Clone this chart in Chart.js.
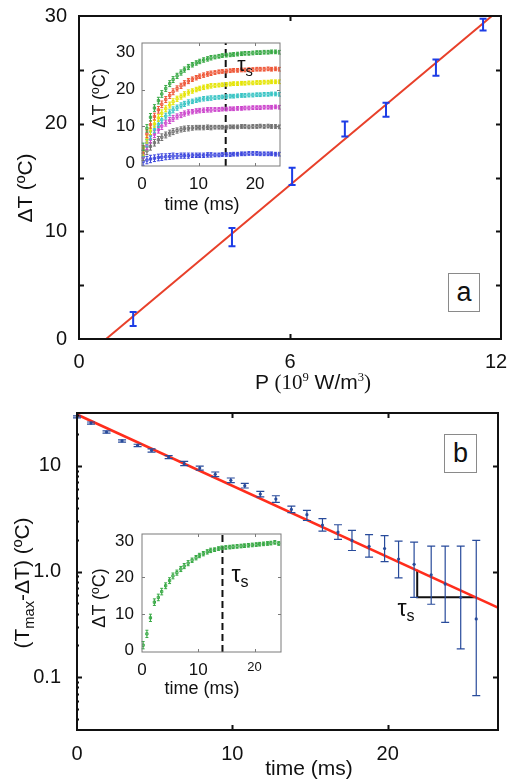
<!DOCTYPE html>
<html>
<head>
<meta charset="utf-8">
<script src="https://cdn.jsdelivr.net/npm/chart.js@4.4.0/dist/chart.umd.min.js"></script>
<style>
  body { margin: 0; background: #fff; width: 510px; height: 779px; position: relative; overflow: hidden;
         font-family: "Liberation Sans", Arial, sans-serif; color: #111; }
  canvas { position: absolute; }
  .lbl { position: absolute; white-space: nowrap; transform: translate(-50%, -50%); line-height: 1; }
  .rot { transform: translate(-50%, -50%) rotate(-90deg); }
  .serif { font-family: "Liberation Serif", "Times New Roman", serif; }
  .sup { font-size: 0.6em; vertical-align: 0.65em; }
  .sub { font-size: 0.7em; vertical-align: -0.3em; }
  .box { position: absolute; border: 1px solid #8a8a8a; background: #fff; display: flex;
         align-items: center; justify-content: center; font-size: 27px; box-sizing: border-box; }
</style>
</head>
<body>
<canvas id="chartA" width="510" height="390" style="left:0;top:0"></canvas>
<canvas id="insetA" width="210" height="190" style="left:80px;top:30px"></canvas>
<canvas id="chartB" width="510" height="389" style="left:0;top:390px"></canvas>
<canvas id="insetB" width="200" height="180" style="left:90px;top:520px"></canvas>

<!-- panel a labels -->
<div class="lbl rot" style="left:24px;top:188px;font-size:21px">ΔT (ºC)</div>
<div class="lbl" style="left:313px;top:382px;font-size:21px">P <span class="serif">(10<span class="sup">9</span></span> W/m<span class="serif"><span class="sup">3</span>)</span></div>
<div class="lbl rot" style="left:99px;top:98px;font-size:18px">ΔT (ºC)</div>
<div class="lbl" style="left:202px;top:204px;font-size:18px">time (ms)</div>
<div class="lbl" style="left:245px;top:66px;font-size:21px">τ<span class="sub">s</span></div>
<div class="box" style="left:448px;top:273px;width:32px;height:39px">a</div>

<!-- panel b labels -->
<div class="lbl rot" style="left:24px;top:583px;font-size:21px">(T<span class="sub">max</span>-ΔT) (ºC)</div>
<div class="lbl" style="left:309px;top:767px;font-size:21px">time (ms)</div>
<div class="lbl rot" style="left:99px;top:598px;font-size:18px">ΔT (ºC)</div>
<div class="lbl" style="left:202px;top:688px;font-size:18px">time (ms)</div>
<div class="lbl" style="left:240px;top:576px;font-size:23px">τ<span class="sub">s</span></div>
<div class="lbl" style="left:406px;top:610px;font-size:23px">τ<span class="sub">s</span></div>
<div class="box" style="left:444px;top:434px;width:33px;height:39px">b</div>

<script>
// ---- panel a: steady temperature rise vs. power density
const powerP    = [1.54, 4.35, 6.06, 7.56, 8.73, 10.15, 11.49];
const deltaT    = [1.86, 9.47, 15.1, 19.5, 21.3, 25.2, 29.2];
const deltaTErr = [0.65, 0.85, 0.8, 0.7, 0.65, 0.75, 0.55];
const fitP      = [0.77, 11.74];
const fitDeltaT = [0, 30];
const ticksPA   = [0, 6, 12];
const ticksTA   = [0, 10, 20, 30];
const frameTA   = [5, 10, 15, 20, 25];

// ---- insets: heating curves (time in ms)
const insetTime = [0.2, 0.87, 1.5, 2.2, 2.9, 3.5, 4.2, 4.9, 5.5, 6.2, 6.9, 7.5, 8.2, 8.9, 9.6, 10.2, 10.9, 11.6, 12.2,
  12.9, 13.6, 14.2, 14.9, 15.6, 16.2, 16.9, 17.6, 18.2, 18.9, 19.6, 20.3, 20.9, 21.6, 22.3, 22.9, 23.6, 24.3];
const insetErr = [1.0, 1.0, 1.0, 0.9, 0.9, 0.9, 0.8, 0.8, 0.8, 0.7, 0.7, 0.7, 0.7, 0.6, 0.6, 0.6, 0.6, 0.6, 0.6,
  0.5, 0.5, 0.5, 0.5, 0.5, 0.5, 0.5, 0.5, 0.5, 0.5, 0.5, 0.5, 0.5, 0.5, 0.5, 0.5, 0.5, 0.5];
const curveGreen = [4.5, 9.5, 12.5, 15, 17, 18.8, 20.3, 21.6, 22.7, 23.7, 24.6, 25.4, 26.1, 26.7, 27.2, 27.6, 28, 28.3, 28.6,
  28.8, 29, 29.2, 29.3, 29.4, 29.5, 29.6, 29.7, 29.8, 29.8, 29.9, 30, 30, 30.1, 30.1, 30.2, 30.2, 30.1];
const curveRed = [3.8, 8, 10.5, 12.7, 14.5, 16, 17.3, 18.4, 19.4, 20.3, 21, 21.7, 22.3, 22.8, 23.2, 23.6, 23.9, 24.2, 24.4,
  24.6, 24.8, 24.9, 25, 25.1, 25.2, 25.2, 25.3, 25.3, 25.4, 25.4, 25.5, 25.5, 25.5, 25.6, 25.5, 25.6, 25.5];
const curveYellow = [3.2, 6.5, 8.8, 10.7, 12.3, 13.6, 14.8, 15.8, 16.7, 17.5, 18.1, 18.7, 19.2, 19.6, 20, 20.3, 20.6, 20.8, 21,
  21.1, 21.2, 21.3, 21.4, 21.5, 21.6, 21.6, 21.7, 21.7, 21.8, 21.8, 21.9, 21.9, 22, 22, 22.1, 22.1, 22.1];
const curveCyan = [2.8, 5.5, 7.5, 9.2, 10.6, 11.8, 12.8, 13.7, 14.5, 15.1, 15.7, 16.1, 16.5, 16.8, 17.1, 17.3, 17.5, 17.6, 17.7,
  17.8, 17.9, 18, 18.1, 18.2, 18.2, 18.3, 18.4, 18.4, 18.5, 18.5, 18.6, 18.6, 18.7, 18.7, 18.8, 18.8, 18.7];
const curveMagenta = [2.5, 4.8, 6.5, 7.9, 9.1, 10.1, 10.9, 11.6, 12.2, 12.7, 13.1, 13.5, 13.8, 14, 14.2, 14.3, 14.4, 14.5, 14.5,
  14.6, 14.6, 14.7, 14.7, 14.8, 14.8, 14.9, 14.9, 15, 15, 15.1, 15.1, 15.1, 15.2, 15.2, 15.2, 15.3, 15.2];
const curveGray = [1.8, 3.4, 4.6, 5.6, 6.4, 7.1, 7.7, 8.2, 8.6, 8.9, 9.2, 9.4, 9.5, 9.6, 9.7, 9.7, 9.7, 9.8, 9.7,
  9.8, 9.8, 9.8, 9.8, 9.9, 9.9, 9.9, 10, 10, 9.9, 10, 10, 10.1, 10, 10.1, 10, 10, 9.9];
const curveBlue = [0.5, 0.9, 1.2, 1.4, 1.6, 1.7, 1.8, 1.9, 2, 2, 2.1, 2.1, 2.1, 2.2, 2.2, 2.2, 2.2, 2.3, 2.3,
  2.3, 2.3, 2.4, 2.4, 2.4, 2.5, 2.5, 2.6, 2.6, 2.7, 2.7, 2.7, 2.6, 2.6, 2.6, 2.6, 2.5, 2.5];
const curveGreenB = [1.4, 4.5, 8.9, 13.2, 14.5, 16.1, 17.7, 19.1, 20.4, 21.3, 22.3, 23.1, 23.9, 24.7, 25.4, 26.0, 26.5, 27.0, 27.4,
  27.6, 27.9, 28.1, 28.2, 28.3, 28.4, 28.5, 28.6, 28.7, 28.8, 28.9, 29.0, 29.1, 29.2, 29.3, 29.4, 29.6, 29.3];
const tauA = 14.8;
const tauB = 14.3;
const insetTicksX = [0, 10, 20];
const insetTicksY = [0, 10, 20, 30];

// ---- panel b: approach to saturation, log scale
const decayTime = [0, 0.9, 1.9, 2.9, 3.9, 4.8, 5.9, 6.9, 7.9, 8.9, 9.9, 10.8, 11.8, 12.8, 13.8, 14.8, 15.8, 16.8,
  17.7, 18.8, 19.8, 20.7, 21.7, 22.8, 23.7, 24.7, 25.7];
const decayVal = [29.0, 25.4, 20.9, 17.2, 15.6, 14.0, 12.1, 10.5, 9.53, 8.31, 7.29, 6.49, 5.40, 4.85, 3.87, 3.45, 2.75, 2.36,
  1.97, 1.73, 1.65, 1.31, 1.17, 0.93, 0.76, 0.57, 0.356];
const decayHi = [29.7, 26.0, 21.4, 17.6, 16.0, 14.5, 12.5, 11.0, 9.95, 8.74, 7.67, 6.82, 5.74, 5.21, 4.16, 3.79, 3.16, 2.77,
  2.45, 2.23, 2.19, 1.94, 1.90, 1.74, 1.74, 1.74, 1.97];
const decayLo = [28.4, 24.8, 20.4, 16.8, 15.2, 13.5, 11.7, 10.05, 9.12, 7.90, 6.93, 6.17, 5.08, 4.51, 3.60, 3.04, 2.41, 2.01,
  1.58, 1.37, 1.24, 0.87, 0.57, 0.49, 0.33, 0.185, 0.067];
const decayFitT = [0, 27.1];
const decayFitV = [30.6, 0.456];
const tauMarkT = [21.9, 21.9, 25.6];
const tauMarkV = [1.04, 0.57, 0.57];
const ticksTB = [0, 10, 20];
const ticksLogB = [0.1, 1, 10];
const minorLogB = [0.04, 0.05, 0.06, 0.07, 0.08, 0.09, 0.2, 0.3, 0.4, 0.5, 0.6, 0.7, 0.8, 0.9,
  2, 3, 4, 5, 6, 7, 8, 9, 20, 30];

const pts = (xs, ys) => xs.map((x, i) => ({ x: x, y: ys[i] }));

// error bars drawn through the chart scales
const errorBars = {
  id: 'errorBars',
  afterDatasetsDraw(chart) {
    const { ctx, scales: { x, y } } = chart;
    chart.data.datasets.forEach(ds => {
      if (!ds.errLo) return;
      ctx.save();
      ctx.strokeStyle = ds.errColor || ds.borderColor;
      ctx.lineWidth = ds.errWidth || 1;
      const c = ds.capW / 2;
      ds.data.forEach((p, i) => {
        const px = x.getPixelForValue(p.x);
        const y1 = y.getPixelForValue(ds.errLo[i]);
        const y2 = y.getPixelForValue(ds.errHi[i]);
        ctx.beginPath();
        ctx.moveTo(px, y1); ctx.lineTo(px, y2);
        ctx.moveTo(px - c, y1); ctx.lineTo(px + c, y1);
        ctx.moveTo(px - c, y2); ctx.lineTo(px + c, y2);
        ctx.stroke();
      });
      ctx.restore();
    });
  }
};

// box around the plot with inward ticks on all sides
const frame = {
  id: 'frame',
  afterDraw(chart, args, o) {
    const { ctx, chartArea: a, scales: { x, y } } = chart;
    ctx.save();
    ctx.strokeStyle = o.color;
    ctx.lineWidth = o.width;
    ctx.strokeRect(a.left, a.top, a.right - a.left, a.bottom - a.top);
    ctx.lineWidth = o.tickWidth;
    ctx.beginPath();
    (o.xTicks || []).forEach(v => {
      const px = Math.round(x.getPixelForValue(v)) + 0.5;
      ctx.moveTo(px, a.bottom); ctx.lineTo(px, a.bottom - o.len);
      ctx.moveTo(px, a.top); ctx.lineTo(px, a.top + o.len);
    });
    (o.yTicks || []).forEach(v => {
      const py = Math.round(y.getPixelForValue(v)) + 0.5;
      ctx.moveTo(a.left, py); ctx.lineTo(a.left + o.len, py);
      ctx.moveTo(a.right, py); ctx.lineTo(a.right - o.len, py);
    });
    (o.yMinor || []).forEach(v => {
      const py = Math.round(y.getPixelForValue(v)) + 0.5;
      ctx.moveTo(a.left, py); ctx.lineTo(a.left + 2, py);
    });
    ctx.stroke();
    ctx.restore();
  }
};

function axis(type, min, max, tickVals, fit, font, pad, cb) {
  return {
    type: type, min: min, max: max,
    grid: { display: true, drawOnChartArea: false, drawTicks: false },
    border: { display: false },
    ticks: { autoSkip: false, maxRotation: 0, color: '#111', font: font, padding: pad,
             callback: cb || (v => String(v)) },
    afterBuildTicks: s => { s.ticks = tickVals.map(v => ({ value: v })); },
    afterFit: s => {
      if (s.isHorizontal()) { s.height = fit; s.paddingLeft = 0; s.paddingRight = 0; }
      else { s.width = fit; s.paddingTop = 0; s.paddingBottom = 0; }
    }
  };
}

function baseOptions(padding, xAxis, yAxis, frameOpts) {
  return {
    responsive: false, animation: false, events: [],
    layout: { padding: padding, autoPadding: false },
    scales: { x: xAxis, y: yAxis },
    plugins: { legend: { display: false }, tooltip: { enabled: false }, frame: frameOpts }
  };
}

const mainFont = { family: 'Liberation Sans', size: 20 };
const insetFont = { family: 'Liberation Sans', size: 17 };

// ---- panel a
new Chart(document.getElementById('chartA'), {
  type: 'scatter',
  data: {
    datasets: [
      { data: pts(fitP, fitDeltaT), showLine: true, borderColor: '#e8402a', borderWidth: 2, pointRadius: 0 },
      { data: pts(powerP, deltaT), pointRadius: 0, borderColor: '#1d3de6',
        errLo: deltaT.map((v, i) => v - deltaTErr[i]), errHi: deltaT.map((v, i) => v + deltaTErr[i]),
        capW: 7, errWidth: 2 }
    ]
  },
  options: baseOptions({ left: 0, right: 9, top: 16, bottom: 0 },
    // the last label is padded so it stays inside the page
    axis('linear', 0, 12, ticksPA, 51, mainFont, 11, v => (v === 12 ? '12\u2002' : String(v))),
    axis('linear', 0, 30, ticksTA, 79, mainFont, 12),
    { color: '#111', width: 2, tickWidth: 2, len: 5, xTicks: [6], yTicks: frameTA }),
  plugins: [errorBars, frame]
});

function insetSet(ys, color) {
  return {
    data: pts(insetTime, ys), borderColor: color, backgroundColor: 'rgba(0,0,0,0)',
    pointStyle: 'rect', pointRadius: 1.6, borderWidth: 1,
    errLo: ys.map((v, i) => v - insetErr[i]), errHi: ys.map((v, i) => v + insetErr[i]), capW: 3, errWidth: 1
  };
}

new Chart(document.getElementById('insetA'), {
  type: 'scatter',
  data: {
    datasets: [
      insetSet(curveBlue, '#3b45dd'),
      insetSet(curveGray, '#6e6e6e'),
      insetSet(curveMagenta, '#cc45cc'),
      insetSet(curveCyan, '#38c4c4'),
      insetSet(curveYellow, '#e4e400'),
      insetSet(curveRed, '#ee5535'),
      insetSet(curveGreen, '#36a843'),
      { data: pts([tauA, tauA], [-0.7, 32.6]), showLine: true, borderColor: '#111', borderWidth: 2,
        borderDash: [7, 4], pointRadius: 0 }
    ]
  },
  options: baseOptions({ left: 0, right: 10, top: 13, bottom: 0 },
    axis('linear', 0, 24.4, insetTicksX, 54, insetFont, 8),
    axis('linear', -0.7, 32.6, insetTicksY, 62, insetFont, 7),
    { color: '#7a7a7a', width: 1, tickWidth: 1, len: 3, xTicks: [10, 20], yTicks: [10, 20] }),
  plugins: [errorBars, frame]
});

// ---- panel b
new Chart(document.getElementById('chartB'), {
  type: 'scatter',
  data: {
    datasets: [
      { data: pts(decayTime, decayVal), pointRadius: 1.6, backgroundColor: '#284b9b', borderColor: '#284b9b',
        borderWidth: 0, errLo: decayLo, errHi: decayHi, capW: 8, errWidth: 1.2 },
      { data: pts(decayFitT, decayFitV), showLine: true, borderColor: '#ff2d1c', borderWidth: 2.5, pointRadius: 0 },
      { data: pts(tauMarkT, tauMarkV), showLine: true, borderColor: '#111', borderWidth: 2, pointRadius: 0 }
    ]
  },
  options: baseOptions({ left: 0, right: 12, top: 23, bottom: 0 },
    axis('linear', 0, 27.1, ticksTB, 49, mainFont, 12),
    axis('logarithmic', Math.pow(10, -1.5), Math.pow(10, 1.5), ticksLogB, 77, mainFont, 16,
      v => (v === 10 ? '10' : v === 1 ? '1.0' : v === 0.1 ? '0.1' : '')),
    { color: '#111', width: 2, tickWidth: 2, len: 5, xTicks: [10, 20], yTicks: ticksLogB, yMinor: minorLogB }),
  plugins: [errorBars, frame]
});

new Chart(document.getElementById('insetB'), {
  type: 'scatter',
  data: {
    datasets: [
      insetSet(curveGreenB, '#36a843'),
      { data: pts([tauB, tauB], [-0.47, 31.9]), showLine: true, borderColor: '#111', borderWidth: 2,
        borderDash: [7, 4], pointRadius: 0 }
    ]
  },
  options: baseOptions({ left: 0, right: 9, top: 14, bottom: 0 },
    axis('linear', 0, 24.7, insetTicksX, 48, ctx => (ctx.tick && ctx.tick.value === 20 ?
      { family: 'Liberation Sans', size: 13 } : insetFont), 8),
    axis('linear', -0.47, 31.9, insetTicksY, 52, insetFont, 8),
    { color: '#7a7a7a', width: 1, tickWidth: 1, len: 3, xTicks: [10, 20], yTicks: [10, 20] }),
  plugins: [errorBars, frame]
});
</script>
</body>
</html>
